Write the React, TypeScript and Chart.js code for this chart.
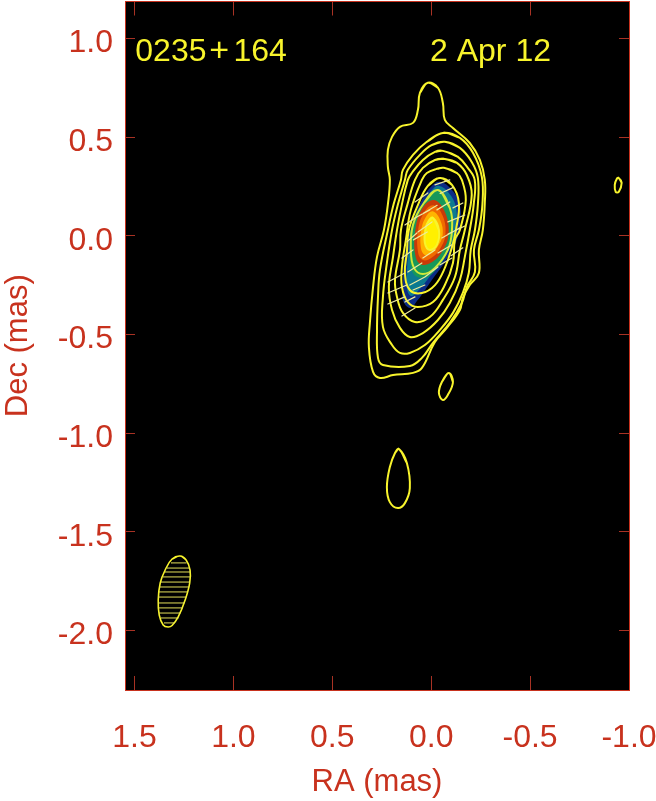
import React, { useEffect, useRef } from 'react';
import { Chart, registerables } from 'chart.js';

Chart.register(...registerables);

type Pt = [number, number];

// contours, [RA, Dec] in mas
const contour1: Pt[] = [[0.017, 0.776], [-0.034, 0.751], [-0.059, 0.674], [-0.069, 0.588], [-0.11, 0.547], [-0.195, 0.471], [-0.246, 0.385], [-0.271, 0.284], [-0.271, 0.167], [-0.261, 0.03], [-0.241, -0.071], [-0.241, -0.188], [-0.195, -0.249], [-0.16, -0.314], [-0.145, -0.375], [-0.079, -0.466], [-0.019, -0.537], [0.047, -0.669], [0.092, -0.694], [0.193, -0.705], [0.259, -0.72], [0.294, -0.689], [0.315, -0.563], [0.31, -0.441], [0.294, -0.259], [0.274, -0.106], [0.239, 0.03], [0.219, 0.16], [0.209, 0.284], [0.219, 0.35], [0.219, 0.436], [0.198, 0.502], [0.158, 0.553], [0.092, 0.573], [0.067, 0.639], [0.057, 0.725], [0.017, 0.776]];
const contour2: Pt[] = [[-0.059, 0.522], [-0.145, 0.497], [-0.211, 0.421], [-0.256, 0.299], [-0.259, 0.16], [-0.241, 0.03], [-0.216, -0.071], [-0.221, -0.183], [-0.18, -0.259], [-0.155, -0.34], [-0.094, -0.441], [-0.009, -0.542], [0.047, -0.618], [0.108, -0.659], [0.244, -0.654], [0.269, -0.618], [0.274, -0.476], [0.269, -0.309], [0.259, -0.172], [0.219, 0.03], [0.19, 0.16], [0.153, 0.284], [0.143, 0.335], [0.092, 0.411], [0.022, 0.477], [-0.059, 0.522]];
const contour3: Pt[] = [[-0.069, 0.477], [-0.145, 0.446], [-0.205, 0.375], [-0.236, 0.294], [-0.236, 0.16], [-0.221, 0.03], [-0.2, -0.071], [-0.19, -0.188], [-0.16, -0.289], [-0.11, -0.39], [-0.044, -0.476], [0.032, -0.553], [0.108, -0.593], [0.158, -0.593], [0.198, -0.553], [0.244, -0.461], [0.244, -0.309], [0.224, -0.137], [0.198, 0.03], [0.168, 0.16], [0.133, 0.284], [0.118, 0.335], [0.057, 0.411], [-0.004, 0.461], [-0.069, 0.477]];
const contour4: Pt[] = [[-0.059, 0.431], [-0.135, 0.401], [-0.185, 0.345], [-0.22, 0.284], [-0.215, 0.16], [-0.195, 0.03], [-0.17, -0.106], [-0.145, -0.223], [-0.094, -0.34], [-0.034, -0.426], [0.042, -0.492], [0.108, -0.512], [0.158, -0.466], [0.198, -0.375], [0.214, -0.259], [0.193, -0.106], [0.173, 0.03], [0.148, 0.16], [0.118, 0.284], [0.098, 0.319], [0.042, 0.385], [-0.019, 0.426], [-0.059, 0.431]];
const contour5: Pt[] = [[-0.069, 0.39], [-0.13, 0.37], [-0.18, 0.309], [-0.205, 0.208], [-0.17, 0.03], [-0.145, -0.071], [-0.12, -0.208], [-0.059, -0.324], [0.007, -0.411], [0.082, -0.436], [0.143, -0.39], [0.173, -0.309], [0.183, -0.223], [0.158, -0.071], [0.153, 0.03], [0.12, 0.16], [0.082, 0.284], [0.042, 0.345], [-0.019, 0.385], [-0.069, 0.39]];
const contour6: Pt[] = [[-0.064, 0.345], [-0.13, 0.319], [-0.155, 0.284], [-0.175, 0.182], [-0.145, 0.03], [-0.12, -0.02], [-0.11, -0.137], [-0.069, -0.249], [-0.009, -0.335], [0.067, -0.36], [0.118, -0.335], [0.148, -0.259], [0.148, -0.157], [0.128, -0.02], [0.103, 0.132], [0.047, 0.284], [0.022, 0.319], [-0.029, 0.34], [-0.064, 0.345]];
const contour7: Pt[] = [[-0.044, 0.294], [-0.105, 0.259], [-0.14, 0.167], [-0.125, 0.03], [-0.105, -0.056], [-0.069, -0.162], [-0.019, -0.249], [0.047, -0.289], [0.108, -0.274], [0.133, -0.188], [0.123, -0.086], [0.113, 0.03], [0.067, 0.157], [0.017, 0.254], [-0.044, 0.294]];
const contour8: Pt[] = [[-0.034, 0.233], [-0.094, 0.142], [-0.105, 0.03], [-0.084, -0.071], [-0.019, -0.162], [0.042, -0.193], [0.087, -0.162], [0.103, -0.071], [0.092, 0.056], [0.037, 0.167], [-0.034, 0.233]];
const contour9: Pt[] = [[-0.009, 0.091], [-0.039, 0.03], [-0.029, -0.045], [0.007, -0.071], [0.032, -0.035], [0.027, 0.041], [0.012, 0.076], [-0.009, 0.091]];
const islandA: Pt[] = [[-0.089, -0.694], [-0.11, -0.74], [-0.084, -0.806], [-0.059, -0.831], [-0.039, -0.796], [-0.054, -0.74], [-0.089, -0.694]];
const islandB: Pt[] = [[0.163, -1.08], [0.123, -1.151], [0.108, -1.278], [0.133, -1.354], [0.168, -1.379], [0.209, -1.349], [0.224, -1.273], [0.209, -1.171], [0.183, -1.1], [0.163, -1.08]];
const islandC: Pt[] = [[-0.948, 0.294], [-0.963, 0.269], [-0.948, 0.223], [-0.933, 0.223], [-0.928, 0.259], [-0.938, 0.289], [-0.948, 0.294]];

// colour bands of the core, outermost first
const bandBlue: Pt[] = [[-0.044, 0.274], [-0.105, 0.233], [-0.145, 0.157], [-0.145, 0.056], [-0.12, -0.045], [-0.069, -0.132], [0.007, -0.238], [0.067, -0.324], [0.108, -0.365], [0.143, -0.324], [0.143, -0.223], [0.133, -0.096], [0.098, 0.056], [0.047, 0.182], [-0.004, 0.254], [-0.044, 0.274]];
const bandTeal: Pt[] = [[-0.039, 0.254], [-0.089, 0.218], [-0.125, 0.147], [-0.125, 0.051], [-0.105, -0.04], [-0.054, -0.122], [0.017, -0.218], [0.072, -0.284], [0.103, -0.304], [0.123, -0.264], [0.123, -0.183], [0.113, -0.081], [0.082, 0.056], [0.037, 0.167], [-0.004, 0.233], [-0.039, 0.254]];
const bandGreen: Pt[] = [[-0.029, 0.228], [-0.084, 0.157], [-0.11, 0.04], [-0.089, -0.066], [-0.024, -0.172], [0.037, -0.213], [0.092, -0.188], [0.108, -0.076], [0.098, 0.056], [0.037, 0.172], [-0.029, 0.228]];
const bandRed: Pt[] = [[-0.015, 0.182], [-0.07, 0.12], [-0.088, 0.01], [-0.055, -0.08], [0.0, -0.135], [0.05, -0.145], [0.08, -0.1], [0.08, 0.03], [0.045, 0.14], [-0.015, 0.182]];
const bandOrange: Pt[] = [[-0.012, 0.155], [-0.058, 0.102], [-0.072, 0.01], [-0.045, -0.065], [0.0, -0.112], [0.042, -0.122], [0.066, -0.085], [0.066, 0.03], [0.034, 0.122], [-0.012, 0.155]];
const bandAmber: Pt[] = [[-0.008, 0.125], [-0.046, 0.08], [-0.058, 0.005], [-0.032, -0.055], [0.002, -0.09], [0.034, -0.095], [0.052, -0.06], [0.05, 0.03], [0.025, 0.1], [-0.008, 0.125]];
const bandYellow: Pt[] = [[-0.006, 0.098], [-0.034, 0.055], [-0.042, -0.01], [-0.018, -0.058], [0.012, -0.07], [0.034, -0.035], [0.034, 0.03], [0.016, 0.08], [-0.006, 0.098]];

// polarisation sticks: raA, decA, raB, decB
const sticks: number[][] = [
  [-0.019, 0.259, -0.094, 0.284],
  [0.082, 0.172, 0.017, 0.218],
  [-0.029, 0.132, -0.094, 0.172],
  [-0.11, 0.142, -0.16, 0.167],
  [0.067, 0.02, -0.004, 0.071],
  [-0.084, 0.071, -0.17, 0.106],
  [-0.054, -0.01, -0.145, 0.041],
  [0.042, -0.112, -0.019, -0.071],
  [-0.034, -0.086, -0.105, -0.045],
  [0.123, -0.03, 0.072, 0.015],
  [0.148, -0.112, 0.092, -0.071],
  [0.032, -0.208, -0.034, -0.157],
  [0.118, -0.183, 0.047, -0.137],
  [0.219, -0.233, 0.133, -0.188],
  [-0.044, -0.147, -0.105, -0.112],
  [0.219, -0.289, 0.123, -0.249],
  [0.108, -0.249, 0.032, -0.208],
  [0.219, -0.345, 0.133, -0.309],
  [0.092, -0.274, 0.032, -0.249],
  [0.148, -0.406, 0.082, -0.365],
  [0.133, -0.335, 0.082, -0.309],
  [0.082, 0.091, 0.007, 0.132],
  [0.133, 0.056, 0.082, 0.091],
  [-0.045, 0.215, -0.11, 0.245],
  [0.04, 0.115, -0.03, 0.155],
  [-0.085, 0.01, -0.17, 0.05],
  [-0.1, -0.1, -0.16, -0.06],
  [0.09, -0.02, 0.02, 0.02]
];

// restoring beam
const beamOutline: Pt[] = [[1.269, -1.622], [1.239, -1.642], [1.219, -1.693], [1.221, -1.759], [1.244, -1.845], [1.279, -1.931], [1.31, -1.974], [1.33, -1.982], [1.355, -1.972], [1.375, -1.921], [1.38, -1.845], [1.37, -1.759], [1.345, -1.693], [1.31, -1.637], [1.269, -1.622]];
const beamHatch: number[][] = [
  [-1.657, 1.315, 1.239],
  [-1.683, 1.335, 1.224],
  [-1.703, 1.345, 1.219],
  [-1.728, 1.355, 1.219],
  [-1.754, 1.365, 1.221],
  [-1.779, 1.37, 1.226],
  [-1.804, 1.375, 1.234],
  [-1.83, 1.38, 1.239],
  [-1.86, 1.38, 1.249],
  [-1.885, 1.378, 1.259],
  [-1.911, 1.375, 1.269],
  [-1.936, 1.365, 1.279],
  [-1.961, 1.35, 1.299]
];

const RA_MIN = -1.0;
const RA_MAX = 1.548;
const DEC_MIN = -2.301;
const DEC_MAX = 1.188;

const RED = '#c8321e';
const TICK_RED = '#a83224';
const YELLOW = '#f8f42c';
const FONT = '"Liberation Sans", Arial, sans-serif';

const contours = [contour1, contour2, contour3, contour4, contour5, contour6, contour7, contour9, islandA, islandB, islandC];
const bands: [Pt[], string][] = [
  [bandBlue, '#0b2c86'],
  [bandTeal, '#0c7a90'],
  [bandGreen, '#17985a'],
  [bandRed, '#c83a08'],
  [bandOrange, '#f06a00'],
  [bandAmber, '#ffb400'],
  [bandYellow, '#fff000']
];

// loops repeat a neighbour at each end so the curve has no kink at the seam
const loop = (pts: Pt[]) =>
  [pts[pts.length - 2], ...pts, pts[1]].map(([x, y]) => ({ x, y }));

const frame = {
  id: 'frame',
  beforeDraw(chart: any) {
    const { ctx, chartArea: a } = chart;
    ctx.save();
    ctx.fillStyle = '#000';
    ctx.fillRect(a.left, a.top, a.width, a.height);
    ctx.restore();
  },
  afterDatasetsDraw(chart: any) {
    const { ctx, scales } = chart;
    const y = scales.y.getPixelForValue(0.889);
    ctx.save();
    ctx.fillStyle = YELLOW;
    ctx.font = `32px ${FONT}`;
    ctx.textBaseline = 'alphabetic';
    ctx.fillText('0235', scales.x.getPixelForValue(1.496), y);
    ctx.fillText('164', scales.x.getPixelForValue(1.0), y);
    ctx.fillText('2 Apr 12', scales.x.getPixelForValue(0.006), y);
    ctx.font = `34px ${FONT}`;
    ctx.fillText('+', scales.x.getPixelForValue(1.122), y);
    ctx.restore();
  }
};

const App = () => {
  const canvasRef = useRef<HTMLCanvasElement | null>(null);

  useEffect(() => {
    const line = (data: any[], color: string, width: number, tension: number) => ({
      type: 'scatter' as const,
      data,
      showLine: true,
      borderColor: color,
      borderWidth: width,
      tension,
      pointRadius: 0,
      spanGaps: false,
      borderCapStyle: 'round' as const,
      borderJoinStyle: 'round' as const,
      fill: false as any,
      backgroundColor: 'transparent'
    });

    const stickData = sticks.flatMap(([a, b, c, d]) => [{ x: a, y: b }, { x: c, y: d }, { x: NaN, y: NaN }]);
    const hatchData = beamHatch.flatMap(([dec, a, b]) => [{ x: a, y: dec }, { x: b, y: dec }, { x: NaN, y: NaN }]);

    const list: any[] = [
      ...bands.map(([pts, color]) => ({
        ...line(loop(pts), color, 0, 0.4),
        fill: 'shape',
        backgroundColor: color
      })),
      ...contours.map((pts) => line(loop(pts), YELLOW, 2, 0.4)),
      line(loop(contour8), '#cfe83a', 2, 0.4),
      line(stickData, '#ecea9e', 1.2, 0),
      line(loop(beamOutline), YELLOW, 1.6, 0.4),
      line(hatchData, '#e4e05a', 1, 0)
    ];
    // later entries on top
    list.forEach((d, i) => (d.order = list.length - i));

    // the labels must not push the plot inwards
    const noPad = (s: any) => {
      s.paddingLeft = 0;
      s.paddingRight = 0;
      s.paddingTop = 0;
      s.paddingBottom = 0;
    };

    const xBase = {
      type: 'linear' as const,
      min: RA_MIN,
      max: RA_MAX,
      reverse: true,
      border: { display: true, color: RED, width: 1 },
      grid: { drawOnChartArea: false, tickLength: -14, tickColor: TICK_RED, tickWidth: 1 }
    };
    const yBase = {
      type: 'linear' as const,
      min: DEC_MIN,
      max: DEC_MAX,
      border: { display: true, color: RED, width: 1 },
      grid: { drawOnChartArea: false, tickLength: -10, tickColor: TICK_RED, tickWidth: 1 }
    };
    const fmt = (v: any) => Number(v).toFixed(1);

    const chart = new Chart(canvasRef.current as HTMLCanvasElement, {
      type: 'scatter',
      data: { datasets: list },
      plugins: [frame],
      options: {
        responsive: false,
        animation: false,
        layout: { padding: { top: 1.5, right: 27, left: 0, bottom: 0 } },
        plugins: { legend: { display: false }, tooltip: { enabled: false } },
        scales: {
          x: {
            ...xBase,
            position: 'bottom',
            afterFit: (s: any) => { s.height = 111; noPad(s); },
            ticks: { stepSize: 0.5, includeBounds: false, color: RED, padding: 43, maxRotation: 0, autoSkip: false, font: { family: FONT, size: 32 }, callback: fmt },
            title: { display: true, text: 'RA (mas)', color: RED, font: { family: FONT, size: 31 }, padding: { top: 0, bottom: 0 } }
          },
          x2: {
            ...xBase,
            axis: 'x',
            position: 'top',
            afterFit: (s: any) => { s.height = 0; noPad(s); },
            ticks: { stepSize: 0.5, includeBounds: false, display: false }
          },
          y: {
            ...yBase,
            position: 'left',
            afterFit: (s: any) => { s.width = 125; noPad(s); },
            ticks: { stepSize: 0.5, includeBounds: false, color: RED, padding: 22, labelOffset: 5, font: { family: FONT, size: 32 }, callback: fmt },
            title: { display: true, text: 'Dec (mas)', color: RED, font: { family: FONT, size: 31 }, padding: { top: 0, bottom: 0 } }
          },
          y2: {
            ...yBase,
            axis: 'y',
            position: 'right',
            afterFit: (s: any) => { s.width = 0; noPad(s); },
            ticks: { stepSize: 0.5, includeBounds: false, display: false }
          }
        }
      } as any
    });

    return () => {
      chart.destroy();
    };
  }, []);

  return (
    <div style={{ position: 'fixed', left: 0, top: 0, width: 656, height: 801, background: '#fff' }}>
      <canvas ref={canvasRef} width={656} height={801} style={{ display: 'block' }} />
    </div>
  );
};

export default App;
